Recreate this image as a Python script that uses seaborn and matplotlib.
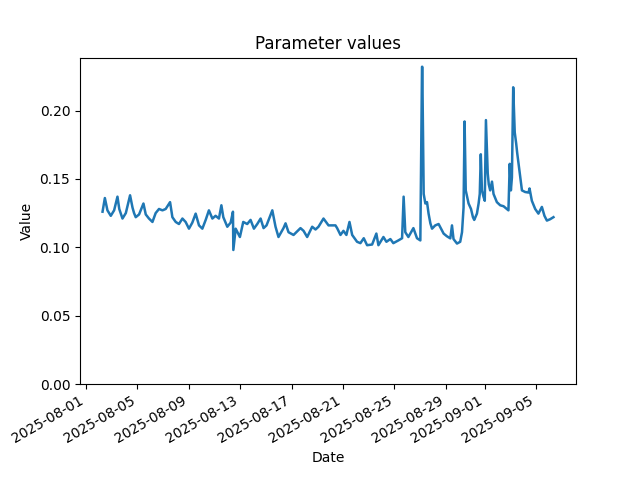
import pandas as pd
import matplotlib.pyplot as plt
import seaborn as sns

# Readings, as days after 2025-08-01 00:00
day_offset = [
    1.30, 1.48, 1.68, 1.94, 2.20, 2.46, 2.60, 2.85, 3.11, 3.44,
    3.63, 3.75, 3.88, 4.14, 4.48, 4.66, 4.91, 5.18, 5.43, 5.69,
    5.96, 6.21, 6.55, 6.73, 6.99, 7.24, 7.51, 7.76, 8.02, 8.28,
    8.54, 8.80, 9.06, 9.32, 9.57, 9.84, 10.09, 10.35, 10.54, 10.69,
    11.00, 11.26, 11.44, 11.47, 11.65, 11.98, 12.24, 12.55, 12.81, 13.07,
    13.33, 13.59, 13.82, 14.05, 14.50, 14.75, 14.98, 15.37, 15.53, 15.76,
    16.15, 16.69, 16.93, 17.21, 17.60, 17.86, 18.09, 18.48, 18.87, 19.41,
    19.54, 19.80, 20.03, 20.26, 20.50, 20.71, 21.09, 21.35, 21.61, 21.87,
    22.26, 22.59, 22.75, 23.14, 23.37, 23.68, 23.91, 24.30, 24.59, 24.71,
    24.84, 25.08, 25.47, 25.75, 26.01, 26.14, 26.16, 26.27, 26.40, 26.53,
    26.65, 26.79, 26.92, 27.17, 27.43, 27.62, 27.82, 28.08, 28.34, 28.47,
    28.59, 28.86, 29.11, 29.25, 29.37, 29.45, 29.54, 29.76, 29.95, 30.10,
    30.20, 30.41, 30.54, 30.63, 30.71, 30.80, 30.92, 31.02, 31.11, 31.25,
    31.33, 31.44, 31.58, 31.70, 31.96, 32.22, 32.48, 32.74, 32.86, 32.96,
    33.05, 33.13, 33.23, 33.35, 33.46, 33.54, 33.66, 33.77, 33.91, 34.16,
    34.42, 34.50, 34.68, 34.94, 35.19, 35.46, 35.66, 35.85, 36.10, 36.36,
]

values = [
    0.126, 0.136, 0.127, 0.123, 0.127, 0.137, 0.128, 0.121, 0.125, 0.138,
    0.129, 0.125, 0.122, 0.124, 0.132, 0.124, 0.121, 0.1185, 0.125, 0.128,
    0.127, 0.128, 0.133, 0.122, 0.1185, 0.117, 0.121, 0.1185, 0.1136, 0.118,
    0.1246, 0.116, 0.1136, 0.120, 0.127, 0.121, 0.123, 0.121, 0.1307, 0.122,
    0.115, 0.118, 0.126, 0.098, 0.1136, 0.1075, 0.1185, 0.117, 0.120, 0.1136,
    0.117, 0.121, 0.114, 0.116, 0.127, 0.115, 0.1075, 0.114, 0.1175, 0.111,
    0.109, 0.114, 0.112, 0.1075, 0.115, 0.113, 0.115, 0.121, 0.116, 0.116,
    0.114, 0.109, 0.112, 0.109, 0.1185, 0.109, 0.104, 0.103, 0.1066, 0.1015,
    0.102, 0.110, 0.1015, 0.1075, 0.104, 0.106, 0.103, 0.105, 0.1066, 0.137,
    0.111, 0.1075, 0.114, 0.1066, 0.105, 0.232, 0.232, 0.139, 0.132, 0.133,
    0.1246, 0.1175, 0.1136, 0.116, 0.117, 0.1136, 0.110, 0.108, 0.1065, 0.116,
    0.106, 0.1027, 0.104, 0.111, 0.129, 0.192, 0.1416, 0.132, 0.128, 0.122,
    0.120, 0.1246, 0.132, 0.139, 0.168, 0.1416, 0.137, 0.134, 0.193, 0.154,
    0.146, 0.1416, 0.148, 0.139, 0.133, 0.1307, 0.130, 0.128, 0.127, 0.161,
    0.1416, 0.151, 0.217, 0.184, 0.176, 0.169, 0.160, 0.152, 0.1416, 0.1404,
    0.140, 0.143, 0.134, 0.128, 0.1246, 0.1295, 0.123, 0.1195, 0.1205, 0.122,
]

df = pd.DataFrame({
    'date': pd.Timestamp('2025-08-01') + pd.to_timedelta(day_offset, unit='D'),
    'value': values,
})

fig, ax = plt.subplots(figsize=(6.4, 4.8), dpi=100)
sns.lineplot(data=df, x='date', y='value', ax=ax, linewidth=1.8)
ax.set_ylim(bottom=0)
ax.set_title('Parameter values')
ax.set_xlabel('Date')
ax.set_ylabel('Value')
fig.autofmt_xdate()

plt.savefig('out.png')
